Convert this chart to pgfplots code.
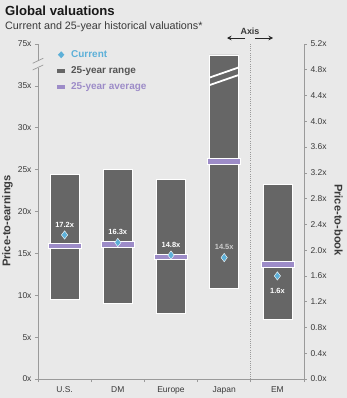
\documentclass[border=0pt]{standalone}
\usepackage{pgfplots}
\pgfplotsset{compat=1.18}
\usepackage{fontspec}
\setmainfont{Liberation Sans}
\usetikzlibrary{arrows.meta}
\definecolor{bggray}{HTML}{E9E9E9}
\definecolor{bargray}{HTML}{666666}
\definecolor{avgpurple}{HTML}{9D8CC8}
\definecolor{curblue}{HTML}{5DB0D8}
\definecolor{axisgray}{HTML}{9A9A9A}
\definecolor{textdark}{HTML}{3A3A3A}
\definecolor{rangetext}{HTML}{555555}
\pgfdeclareplotmark{avgbar}{%
  \pgfpathrectangle{\pgfqpoint{-16.5bp}{-2.7bp}}{\pgfqpoint{33bp}{5.4bp}}%
  \pgfusepathqfillstroke}
\tikzset{ticklab/.style={font=\fontsize{8.5}{10}\selectfont, text=textdark}}
\pgfplotsset{
  base/.style={at={(38bp,-379bp)}, anchor=south west, width=266bp, height=335bp,
    scale only axis, xmin=-0.5, xmax=4.5},
}
\begin{document}
\begin{tikzpicture}
\useasboundingbox (0,0) rectangle (347bp,-398bp);
\fill[bggray] (0,0) rectangle (347bp,-398bp);
\node[anchor=base west, inner sep=0pt, font=\bfseries\fontsize{13.2}{15}\selectfont, text=black!90] at (5bp,-15.7bp) {Global valuations};
\node[anchor=base west, inner sep=0pt, font=\fontsize{10.8}{12}\selectfont, text=textdark] at (5bp,-29.5bp) {Current and 25-year historical valuations*};
% axis 1: left-scale bars and axes
\begin{axis}[base, ymin=0, ymax=40,
  ybar stacked, bar width=29bp,
  axis x line*=bottom, axis y line*=left,
  axis line style={draw=axisgray, line width=0.8bp},
  tick style={draw=axisgray, line width=0.7bp},
  tick align=outside, major tick length=3bp,
  xtick={-0.5,0.5,1.5,2.5,3.5,4.5}, xticklabels={},
  extra x ticks={0,1,2,3,4},
  extra x tick labels={U.S.,DM,Europe,Japan,EM},
  extra x tick style={major tick length=0pt, tick label style={ticklab, yshift=-4bp}},
  ytick={0,5,...,40},
  yticklabels={0x,5x,10x,15x,20x,25x,30x,35x,75x},
  yticklabel style={ticklab},
]
\addplot[draw=none, fill=none] coordinates {(0,9.5) (1,9.0) (2,7.8) (3,10.8)};
\addplot[fill=bargray, draw=white, line width=0.4bp] coordinates {(0,14.9) (1,16.0) (2,16.0) (3,27.9)};
\end{axis}
% axis 3: right-scale EM bar and right axis
\begin{axis}[base, ymin=0, ymax=5.2,
  ybar stacked, bar width=29bp,
  axis x line=none, axis y line*=right,
  axis line style={draw=axisgray, line width=0.8bp},
  tick style={draw=axisgray, line width=0.7bp},
  tick align=outside, major tick length=3bp,
  xtick=\empty,
  ytick={0,0.4,...,5.2},
  yticklabels={0.0x,0.4x,0.8x,1.2x,1.6x,2.0x,2.4x,2.8x,3.2x,3.6x,4.0x,4.4x,4.8x,5.2x},
  yticklabel style={ticklab},
]
\addplot[draw=none, fill=none] coordinates {(4,0.93)};
\addplot[fill=bargray, draw=white, line width=0.4bp] coordinates {(4,2.10)};
\end{axis}
% axis 2: left-scale marks
\begin{axis}[base, ymin=0, ymax=40, hide axis, clip=false,
  legend style={at={(0.0564,0.993)}, anchor=north west, draw=none, fill=none,
    font=\bfseries\fontsize{10}{12}\selectfont, row sep=3.5bp},
  legend cell align=left,
]
% Japan bar break
\draw[white, line width=1.8bp] (axis cs:2.728,36.0) -- (axis cs:3.272,37.2);
\draw[white, line width=1.8bp] (axis cs:2.728,35.1) -- (axis cs:3.272,36.3);
% left axis break
\fill[bggray] (axis cs:-0.56,37.15) rectangle (axis cs:-0.44,38.05);
\draw[axisgray, line width=0.7bp] (axis cs:-0.6,37.7) -- (axis cs:-0.4,38.3);
\draw[axisgray, line width=0.7bp] (axis cs:-0.6,36.9) -- (axis cs:-0.4,37.5);
% dotted divider
\addplot[forget plot, color=axisgray, line width=0.9bp, dash pattern=on 0.9bp off 1.3bp] coordinates {(3.5,0) (3.5,40.1)};
% averages
\addplot[forget plot, only marks, mark=avgbar, mark options={fill=avgpurple, draw=white, line width=0.4bp}]
  coordinates {(0,15.9) (1,16.1) (2,14.6) (3,26.0)};
% current
\addplot[forget plot, only marks, mark=diamond*, mark size=4.2bp,
  mark options={fill=curblue, draw=white, line width=0.4bp},
  nodes near coords, point meta=explicit symbolic,
  every node near coord/.append style={anchor=center, yshift=10.5bp, text=white, font=\bfseries\fontsize{7.5}{9}\selectfont}]
  coordinates {(0,17.2) [17.2x] (1,16.3) [16.3x] (2,14.8) [14.8x]};
\addplot[forget plot, only marks, mark=diamond*, mark size=4.2bp,
  mark options={fill=curblue, draw=white, line width=0.4bp},
  nodes near coords, point meta=explicit symbolic,
  every node near coord/.append style={anchor=center, yshift=10.5bp, text=black!20, font=\bfseries\fontsize{7.5}{9}\selectfont}]
  coordinates {(3,14.5) [14.5x]};
\addlegendimage{legend image code/.code={\path[draw=none, fill=none] (-1bp,0) -- (12bp,0); \fill[curblue, draw=none] (4bp,3.5bp) -- (7.2bp,0) -- (4bp,-3.5bp) -- (0.8bp,0) -- cycle;}}
\addlegendentry{\textcolor{curblue}{Current}}
\addlegendimage{legend image code/.code={\path[draw=none, fill=none] (-1bp,0) -- (12bp,0); \fill[bargray, draw=none] (0bp,-2bp) rectangle (8bp,2bp);}}
\addlegendentry{\textcolor{rangetext}{25-year range}}
\addlegendimage{legend image code/.code={\path[draw=none, fill=none] (-1bp,0) -- (12bp,0); \fill[avgpurple, draw=none] (0bp,-2bp) rectangle (8bp,2bp);}}
\addlegendentry{\textcolor{avgpurple}{25-year average}}
\end{axis}
% axis 4: right-scale EM marks
\begin{axis}[base, ymin=0, ymax=5.2, hide axis, clip=false]
\addplot[only marks, mark=avgbar, mark options={fill=avgpurple, draw=white, line width=0.4bp}]
  coordinates {(4,1.78)};
\addplot[only marks, mark=diamond*, mark size=4.2bp,
  mark options={fill=curblue, draw=white, line width=0.4bp},
  nodes near coords, point meta=explicit symbolic,
  every node near coord/.append style={anchor=center, yshift=-14.5bp, text=white, font=\bfseries\fontsize{7.5}{9}\selectfont}]
  coordinates {(4,1.6) [1.6x]};
\end{axis}
% Axis annotation
\node[font=\bfseries\fontsize{9}{11}\selectfont, text=textdark, inner sep=0pt] at (250bp,-31bp) {Axis};
\draw[-{Stealth[length=4.5bp,width=4.5bp]}, line width=1bp, black!85] (245bp,-38bp) -- (227bp,-38bp);
\draw[-{Stealth[length=4.5bp,width=4.5bp]}, line width=1bp, black!85] (255bp,-38bp) -- (273bp,-38bp);
% axis titles
\node[rotate=90, font=\bfseries\fontsize{11.2}{13}\selectfont, text=textdark] at (7.5bp,-221bp) {Price-to-earnings};
\node[rotate=-90, font=\bfseries\fontsize{11.2}{13}\selectfont, text=textdark] at (338.5bp,-220bp) {Price-to-book};
\end{tikzpicture}
\end{document}
